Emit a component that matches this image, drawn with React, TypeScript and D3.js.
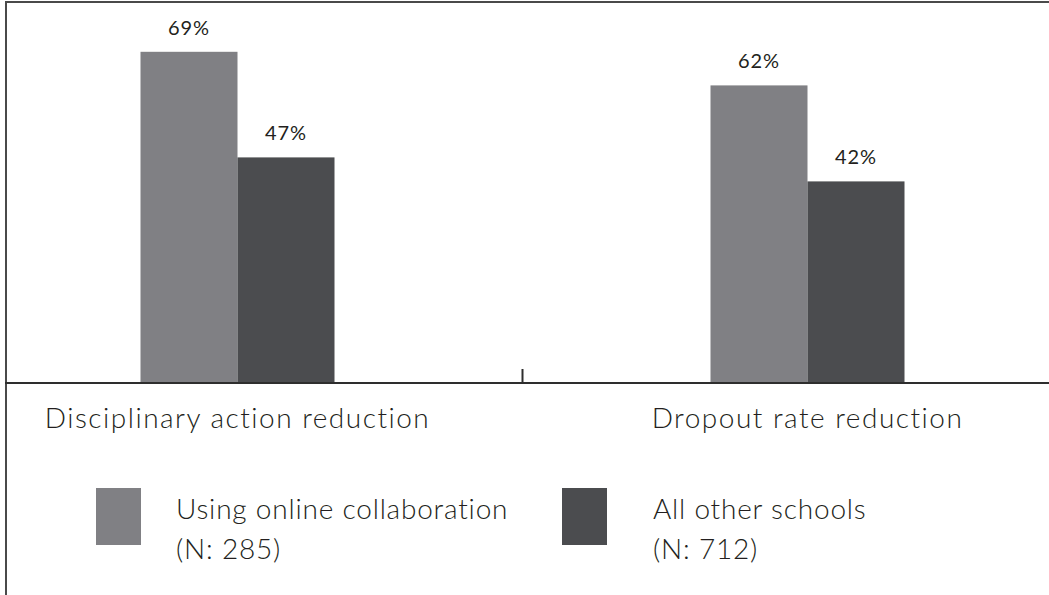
import React, { useEffect, useRef } from 'react';
import * as d3 from 'd3';

const categories = ['Disciplinary action reduction', 'Dropout rate reduction'];
const seriesNames = ['Using online collaboration', 'All other schools'];
const seriesN = ['(N: 285)', '(N: 712)'];
const onlineValues = [69, 62];
const otherValues = [47, 42];
const colors = ['#808084', '#4b4c4f'];

const FONT = 'Lato, "Noto Sans", sans-serif';

const App: React.FC = () => {
  const svgRef = useRef<SVGSVGElement>(null);

  useEffect(() => {
    if (!svgRef.current) return;
    const width = 1049;
    const height = 595;
    const baseY = 383;
    const barW = 97;

    const svg = d3.select(svgRef.current)
      .attr('width', width)
      .attr('height', height)
      .html('');

    const x0 = d3.scaleBand<string>().domain(categories).range([-47.5, 1092.5]);
    const x1 = d3.scaleBand<string>()
      .domain(seriesNames)
      .range([x0.bandwidth() / 2 - barW, x0.bandwidth() / 2 + barW]);
    const y = d3.scaleLinear().domain([0, 100]).range([baseY, baseY - 480]);

    const rows = categories.map((c, i) => ({
      cat: c,
      vals: [onlineValues[i], otherValues[i]],
    }));

    // frame
    svg.append('line')
      .attr('x1', 6).attr('x2', 6).attr('y1', 1).attr('y2', height)
      .style('stroke', '#4a4a4a').style('stroke-width', 2);
    svg.append('line')
      .attr('x1', 5).attr('x2', width).attr('y1', 2).attr('y2', 2)
      .style('stroke', '#4a4a4a').style('stroke-width', 2);

    const groups = svg.selectAll('.grp')
      .data(rows)
      .enter().append('g')
      .attr('transform', d => `translate(${x0(d.cat)},0)`);

    groups.selectAll('rect')
      .data(d => d.vals.map((v, j) => ({ key: seriesNames[j], v, j })))
      .enter().append('rect')
      .attr('x', d => x1(d.key)!)
      .attr('y', d => y(d.v))
      .attr('width', x1.bandwidth())
      .attr('height', d => y(0) - y(d.v))
      .style('fill', d => colors[d.j]);

    groups.selectAll('.val')
      .data(d => d.vals.map((v, j) => ({ key: seriesNames[j], v, j })))
      .enter().append('text')
      .attr('x', d => x1(d.key)! + x1.bandwidth() / 2)
      .attr('y', d => y(d.v) - 17)
      .attr('text-anchor', 'middle')
      .style('font-family', FONT)
      .style('font-size', '20px')
      .style('letter-spacing', '1px')
      .style('fill', '#231f20')
      .text(d => `${d.v}%`);

    // axis baseline and divider tick
    svg.append('line')
      .attr('x1', 5).attr('x2', width).attr('y1', baseY).attr('y2', baseY)
      .style('stroke', '#2e2e2e').style('stroke-width', 2);
    categories.slice(1).forEach(c => {
      const tx = x0(c)!;
      svg.append('line')
        .attr('x1', tx).attr('x2', tx).attr('y1', baseY - 14).attr('y2', baseY)
        .style('stroke', '#2e2e2e').style('stroke-width', 2);
    });

    // category labels
    svg.selectAll('.cat')
      .data(categories)
      .enter().append('text')
      .attr('x', d => x0(d)! + x0.bandwidth() / 2)
      .attr('y', 428)
      .attr('text-anchor', 'middle')
      .style('font-family', FONT)
      .style('font-size', '28px')
      .style('font-weight', 300)
      .style('letter-spacing', '1.5px')
      .style('fill', '#231f20')
      .text(d => d);

    // legend
    const legendX = [96, 562];
    const textOff = [80, 91];
    const leg = svg.selectAll('.leg')
      .data(seriesNames)
      .enter().append('g')
      .attr('transform', (d, i) => `translate(${legendX[i]},488)`);
    leg.append('rect')
      .attr('width', 45).attr('height', 57)
      .style('fill', (d, i) => colors[i]);
    const lt = leg.append('text')
      .style('font-family', FONT)
      .style('font-size', '28px')
      .style('font-weight', 300)
      .style('letter-spacing', '0.8px')
      .style('fill', '#231f20');
    lt.append('tspan').attr('x', (d, i) => textOff[i]).attr('y', 31).text(d => d);
    lt.append('tspan').attr('x', (d, i) => textOff[i]).attr('y', 71).text((d, i) => seriesN[i]);
  }, []);

  return (
    <div style={{ position: 'fixed', left: 0, top: 0, background: '#fff' }}>
      <svg ref={svgRef}></svg>
    </div>
  );
};

export default App;
